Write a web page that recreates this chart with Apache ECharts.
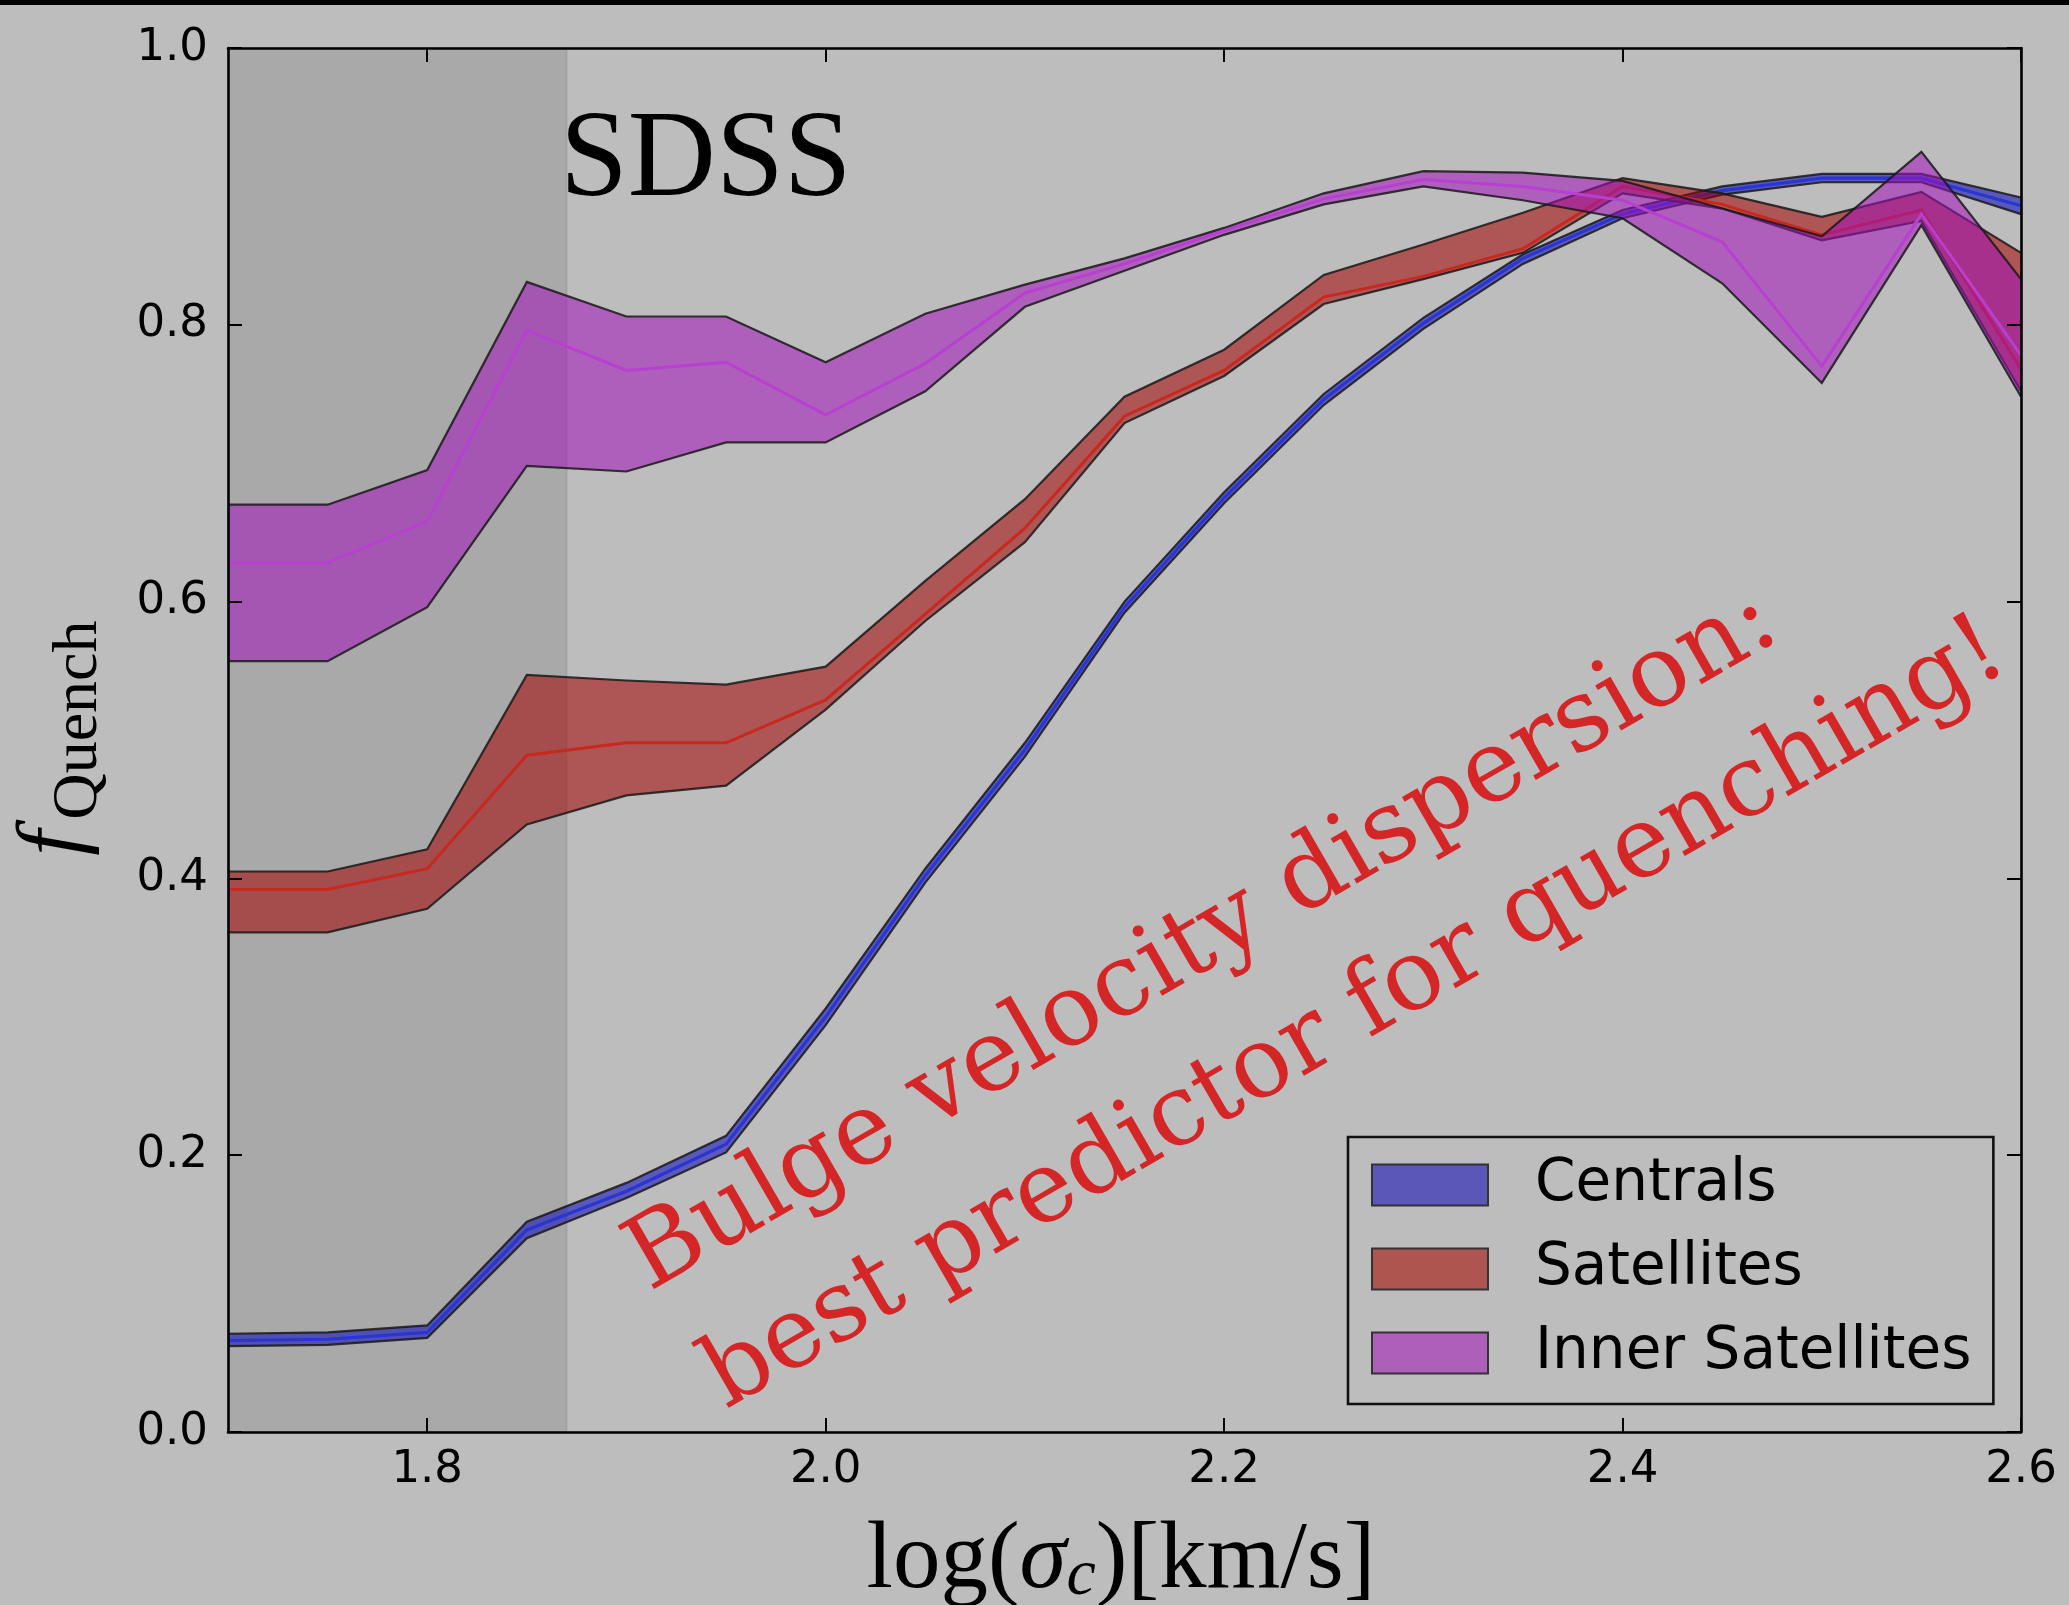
<!DOCTYPE html>
<html><head><meta charset="utf-8">
<script src="https://cdn.jsdelivr.net/npm/echarts@6/dist/echarts.min.js"></script>
<style>html,body{margin:0;padding:0;background:#bdbdbd}#c{width:2069px;height:1605px}</style>
</head><body><div id="c"></div>
<script>
// x positions: log(sigma_c)
const X = [1.70,1.75,1.80,1.85,1.90,1.95,2.00,2.05,2.10,2.15,2.20,2.25,2.30,2.35,2.40,2.45,2.50,2.55,2.60];
// Centrals
const CEN_LO  = [0.062,0.063,0.068,0.140,0.169,0.202,0.294,0.397,0.488,0.592,0.671,0.742,0.797,0.844,0.877,0.894,0.903,0.903,0.880];
const CEN_MID = [0.066,0.067,0.072,0.146,0.174,0.208,0.300,0.402,0.493,0.596,0.675,0.746,0.801,0.848,0.880,0.897,0.906,0.906,0.886];
const CEN_HI  = [0.071,0.072,0.077,0.152,0.180,0.214,0.306,0.407,0.498,0.600,0.679,0.750,0.805,0.851,0.883,0.900,0.909,0.909,0.892];
// Satellites
const SAT_LO  = [0.361,0.361,0.378,0.439,0.460,0.467,0.522,0.586,0.643,0.729,0.763,0.815,0.833,0.852,0.895,0.884,0.861,0.875,0.752];
const SAT_MID = [0.392,0.392,0.407,0.489,0.498,0.498,0.529,0.591,0.653,0.734,0.767,0.820,0.835,0.855,0.900,0.887,0.865,0.883,0.768];
const SAT_HI  = [0.405,0.405,0.421,0.547,0.543,0.540,0.553,0.615,0.674,0.748,0.782,0.836,0.858,0.881,0.906,0.895,0.878,0.896,0.852];
// Inner Satellites
const INN_LO  = [0.557,0.557,0.596,0.698,0.694,0.715,0.715,0.752,0.813,0.839,0.865,0.887,0.900,0.890,0.877,0.830,0.758,0.872,0.748];
const INN_MID = [0.628,0.628,0.658,0.796,0.767,0.773,0.735,0.772,0.823,0.844,0.868,0.891,0.905,0.900,0.890,0.860,0.770,0.880,0.778];
const INN_HI  = [0.670,0.670,0.695,0.831,0.806,0.806,0.773,0.808,0.829,0.848,0.870,0.895,0.911,0.910,0.904,0.884,0.864,0.925,0.833];
// shaded region (low-sigma, unresolved)
const SHADE = [[1.70, 1.87]];
// ticks
const X_TICKS = [1.8, 2.0, 2.2, 2.4, 2.6];
const SERIES_NAMES = ['Centrals', 'Satellites', 'Inner Satellites'];
const ANNOT_LINES = ['Bulge velocity dispersion:', 'best predictor for quenching!'];

const EDGE = 'rgba(25,25,25,0.85)';

function band(lo, mid, hi, fill, lineColor, lineWidth) {
  return function (params, api) {
    if (params.dataIndex !== 0) return null;
    const up = X.map((x, i) => api.coord([x, hi[i]]));
    const dn = X.map((x, i) => api.coord([x, lo[i]]));
    const md = X.map((x, i) => api.coord([x, mid[i]]));
    const poly = up.concat(dn.slice().reverse());
    return {
      type: 'group',
      children: [
        { type: 'polygon', shape: { points: poly }, style: { fill: fill, stroke: null } },
        { type: 'polyline', shape: { points: up }, style: { fill: null, stroke: EDGE, lineWidth: 2.2, lineJoin: 'miter' } },
        { type: 'polyline', shape: { points: dn }, style: { fill: null, stroke: EDGE, lineWidth: 2.2, lineJoin: 'miter' } },
        { type: 'polyline', shape: { points: md }, style: { fill: null, stroke: lineColor, lineWidth: lineWidth } }
      ]
    };
  };
}

function bandData(lo, hi) { return X.map((x, i) => [x, lo[i], hi[i]]); }

const chart = echarts.init(document.getElementById('c'), null, { renderer: 'canvas' });

const axisCommon = {
  type: 'value',
  axisLine: { show: true, onZero: false, lineStyle: { color: '#000', width: 2.6 } },
  axisTick: { show: true, inside: true, length: 14, lineStyle: { color: '#000', width: 2 } },
  splitLine: { show: false },
  z: 10
};

const option = {
  backgroundColor: '#bdbdbd',
  animation: false,
  grid: { left: 228, top: 48, width: 1793, height: 1384, show: false },
  xAxis: [
    Object.assign({}, axisCommon, {
      position: 'bottom', min: 1.7, max: 2.6,
      axisTick: Object.assign({}, axisCommon.axisTick, { customValues: X_TICKS }),
      axisLabel: { customValues: X_TICKS, formatter: v => v.toFixed(1), fontFamily: 'DejaVu Sans', fontSize: 45, color: '#000', margin: 16 }
    }),
    Object.assign({}, axisCommon, {
      position: 'top', min: 1.7, max: 2.6,
      axisTick: Object.assign({}, axisCommon.axisTick, { customValues: X_TICKS }),
      axisLabel: { show: false }
    })
  ],
  yAxis: [
    Object.assign({}, axisCommon, {
      position: 'left', min: 0, max: 1, interval: 0.2,
      axisLabel: { formatter: v => v.toFixed(1), fontFamily: 'DejaVu Sans', fontSize: 45, color: '#000', margin: 20 }
    }),
    Object.assign({}, axisCommon, {
      position: 'right', min: 0, max: 1, interval: 0.2,
      axisLabel: { show: false }
    })
  ],
  legend: {
    orient: 'vertical', left: 1348, top: 1137,
    padding: [19, 22, 22, 23],
    borderColor: '#111', borderWidth: 2.6,
    itemWidth: 116, itemHeight: 41, itemGap: 26,
    icon: 'rect',
    textStyle: { fontFamily: 'DejaVu Sans', fontSize: 58, color: '#000', padding: [0, 0, 0, 42] },
    data: [
      { name: SERIES_NAMES[0], itemStyle: { color: '#5a57b8', borderColor: '#333', borderWidth: 2 } },
      { name: SERIES_NAMES[1], itemStyle: { color: '#ae5550', borderColor: '#333', borderWidth: 2 } },
      { name: SERIES_NAMES[2], itemStyle: { color: '#ae5fba', borderColor: '#333', borderWidth: 2 } }
    ]
  },
  series: [
    {
      type: 'custom', name: 'shade', z: 1, silent: true,
      data: SHADE,
      encode: { x: [0, 1] },
      renderItem: function (params, api) {
        const p0 = api.coord([api.value(0), 1]);
        const p1 = api.coord([api.value(1), 0]);
        return { type: 'rect', shape: { x: p0[0], y: p0[1], width: p1[0] - p0[0], height: p1[1] - p0[1] },
                 style: { fill: '#a9a9a9', stroke: 'rgba(0,0,0,0.08)', lineWidth: 2 } };
      }
    },
    {
      type: 'custom', name: SERIES_NAMES[0], z: 2,
      data: bandData(CEN_LO, CEN_HI), encode: { x: 0, y: [1, 2] },
      itemStyle: { color: '#5a57b8' },
      renderItem: band(CEN_LO, CEN_MID, CEN_HI, 'rgba(9,5,185,0.55)', '#2a36d2', 3.2)
    },
    {
      type: 'custom', name: SERIES_NAMES[1], z: 3,
      data: bandData(SAT_LO, SAT_HI), encode: { x: 0, y: [1, 2] },
      itemStyle: { color: '#ae5550' },
      renderItem: band(SAT_LO, SAT_MID, SAT_HI, 'rgba(162,0,0,0.55)', '#c8281e', 3)
    },
    {
      type: 'custom', name: SERIES_NAMES[2], z: 4,
      data: bandData(INN_LO, INN_HI), encode: { x: 0, y: [1, 2] },
      itemStyle: { color: '#ae5fba' },
      renderItem: band(INN_LO, INN_MID, INN_HI, 'rgba(160,18,185,0.55)', '#b840d0', 3)
    }
  ],
  graphic: [
    { type: 'rect', left: 0, top: 0, shape: { width: 2069, height: 5 }, style: { fill: '#000' }, z: 100 },
    { type: 'text', x: 560, y: 163, z: 50,
      style: { text: 'SDSS', fontFamily: 'Liberation Serif', fontSize: 122, fill: '#000', align: 'left', verticalAlign: 'middle' } },
    { type: 'text', x: 1203, y: 942, rotation: 30 * Math.PI / 180, z: 50,
      style: { text: ANNOT_LINES[0], fontFamily: 'DejaVu Serif', fontSize: 100, fill: '#d42626', align: 'center', verticalAlign: 'middle' } },
    { type: 'text', x: 1356, y: 1016, rotation: 30 * Math.PI / 180, z: 50,
      style: { text: ANNOT_LINES[1], fontFamily: 'DejaVu Serif', fontSize: 99, fill: '#d42626', align: 'center', verticalAlign: 'middle' } },
    { type: 'text', x: 1121, y: 1555, z: 50,
      style: {
        text: '{n|log(}{i|σ}{s|c}{n|)[km/s]}',
        align: 'center', verticalAlign: 'middle',
        rich: {
          n: { fontFamily: 'Liberation Serif', fontSize: 95, lineHeight: 110, verticalAlign: 'bottom', fill: '#000' },
          i: { fontFamily: 'Liberation Serif', fontStyle: 'italic', fontSize: 95, lineHeight: 110, verticalAlign: 'bottom', fill: '#000' },
          s: { fontFamily: 'Liberation Serif', fontStyle: 'italic', fontSize: 66, lineHeight: 50, verticalAlign: 'bottom', fill: '#000' }
        }
      } },
    { type: 'text', x: 56, y: 843, rotation: Math.PI / 2, z: 50,
      style: { text: 'f', fontFamily: 'Liberation Serif', fontStyle: 'italic', fontSize: 92, fill: '#000', align: 'center', verticalAlign: 'middle' } },
    { type: 'text', x: 79, y: 720, rotation: Math.PI / 2, z: 50,
      style: { text: 'Quench', fontFamily: 'Liberation Serif', fontSize: 64, fill: '#000', align: 'center', verticalAlign: 'middle' } }
  ]
};
chart.setOption(option);
</script>
</body></html>
